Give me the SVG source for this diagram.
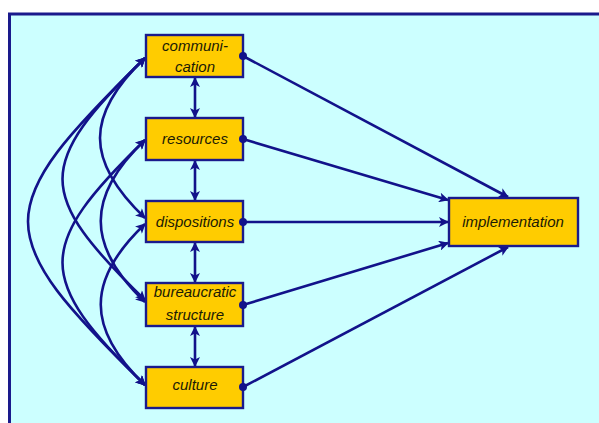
<svg xmlns="http://www.w3.org/2000/svg" width="599" height="423" viewBox="0 0 599 423">
<style>
.box{fill:#ffcc00;stroke:#1a1a8c;stroke-width:2.4}
.lbl{font-family:"Liberation Sans",Arial,sans-serif;font-style:italic;font-size:15px;fill:#1a1a05;text-anchor:middle}
.c{fill:none;stroke:#12128a;stroke-width:2.6}
.dot{fill:#12128a}
</style>
<defs>
<marker id="ah" viewBox="0 0 10 10" refX="9" refY="5" markerWidth="13" markerHeight="10" markerUnits="userSpaceOnUse" orient="auto-start-reverse">
<path d="M0,0 L10,5 L0,10 L2.5,5 z" fill="#12128a"/>
</marker>
</defs>
<rect x="0" y="0" width="599" height="423" fill="#ffffff"/>
<rect x="9.5" y="14" width="620" height="440" fill="#ccffff" stroke="#1a1a8c" stroke-width="3"/>
<g id="connectors">
<path class="c" d="M145,58 C-11,211 -11,232 145,385" marker-start="url(#ah)" marker-end="url(#ah)"/>
<path class="c" d="M145,58 C35,165 35,193 145,300" marker-start="url(#ah)" marker-end="url(#ah)"/>
<path class="c" d="M145,58 C85,115 85,161 145,218" marker-start="url(#ah)" marker-end="url(#ah)"/>
<path class="c" d="M145,140 C35,247 35,278 145,385" marker-start="url(#ah)" marker-end="url(#ah)"/>
<path class="c" d="M145,140 C86,196 86,246 145,302" marker-start="url(#ah)" marker-end="url(#ah)"/>
<path class="c" d="M145,224 C86,280 86,329 145,385" marker-start="url(#ah)" marker-end="url(#ah)"/>
<line class="c" x1="195" y1="78" x2="195" y2="117" marker-start="url(#ah)" marker-end="url(#ah)"/>
<line class="c" x1="195" y1="161" x2="195" y2="200" marker-start="url(#ah)" marker-end="url(#ah)"/>
<line class="c" x1="195" y1="243" x2="195" y2="282" marker-start="url(#ah)" marker-end="url(#ah)"/>
<line class="c" x1="195" y1="327" x2="195" y2="366" marker-start="url(#ah)" marker-end="url(#ah)"/>
<line class="c" x1="243" y1="56" x2="508" y2="197" marker-end="url(#ah)"/>
<line class="c" x1="243" y1="139" x2="448" y2="200" marker-end="url(#ah)"/>
<line class="c" x1="243" y1="222" x2="448" y2="222" marker-end="url(#ah)"/>
<line class="c" x1="243" y1="305" x2="448" y2="243" marker-end="url(#ah)"/>
<line class="c" x1="243" y1="387" x2="508" y2="247" marker-end="url(#ah)"/>
</g>
<g id="communication">
<rect class="box" x="146" y="35" width="97" height="42"/>
<text class="lbl" x="195" y="51">communi-</text>
<text class="lbl" x="195" y="72">cation</text>
<circle class="dot" cx="243" cy="56" r="4"/>
</g>
<g id="resources">
<rect class="box" x="146" y="118" width="97" height="42"/>
<text class="lbl" x="195" y="144">resources</text>
<circle class="dot" cx="243" cy="139" r="4"/>
</g>
<g id="dispositions">
<rect class="box" x="146" y="201" width="97" height="41"/>
<text class="lbl" x="195" y="227">dispositions</text>
<circle class="dot" cx="243" cy="222" r="4"/>
</g>
<g id="bureaucratic">
<rect class="box" x="146" y="283" width="97" height="43"/>
<text class="lbl" x="195" y="297">bureaucratic</text>
<text class="lbl" x="195" y="320">structure</text>
<circle class="dot" cx="243" cy="305" r="4"/>
</g>
<g id="culture">
<rect class="box" x="146" y="367" width="97" height="41"/>
<text class="lbl" x="195" y="390">culture</text>
<circle class="dot" cx="243" cy="387" r="4"/>
</g>
<g id="implementation">
<rect class="box" x="449" y="198" width="129" height="48"/>
<text class="lbl" x="513" y="227">implementation</text>
</g>
</svg>
